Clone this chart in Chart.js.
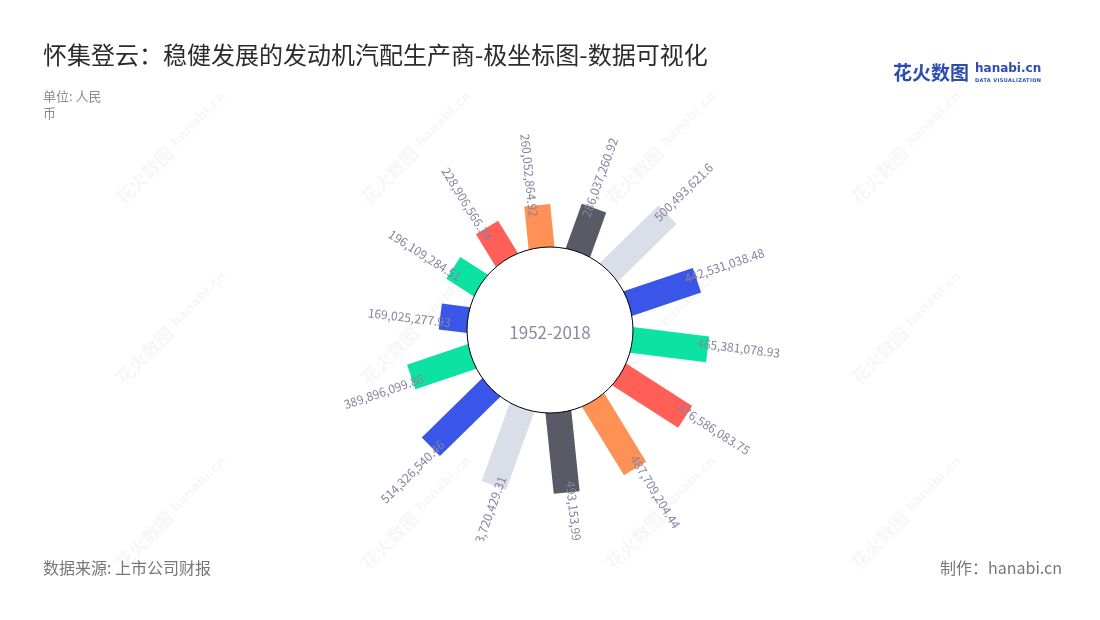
<!DOCTYPE html>
<html lang="zh">
<head>
<meta charset="utf-8">
<title>极坐标图</title>
<script src="https://cdn.jsdelivr.net/npm/chart.js@4/dist/chart.umd.min.js"></script>
<style>
    body { margin: 0; width: 1100px; height: 620px; background: #fff; position: relative; overflow: hidden;
           font-family: "Noto Sans CJK SC", "Noto Sans", sans-serif; }
    #chart { position: absolute; left: 0; top: 0; }
    .title { position: absolute; left: 43px; top: 39px; font-size: 24px; line-height: 30px; color: #2b2b2b; white-space: nowrap; }
    .unit { position: absolute; left: 43px; top: 87px; width: 70px; font-size: 13px; line-height: 17px; color: #8c8c8c; }
    .source { position: absolute; left: 43px; top: 556px; font-size: 16px; line-height: 22px; color: #777; }
    .credit { position: absolute; right: 38px; top: 556px; font-size: 16px; line-height: 22px; color: #777; }
    .logo-cn { position: absolute; left: 893px; top: 60px; font-size: 19px; line-height: 24px; font-weight: bold; color: #2d4bb3; }
    .logo-en { position: absolute; left: 975px; top: 61px; font-family: "DejaVu Sans", sans-serif; font-size: 12px; line-height: 15px; font-weight: bold; color: #2d4bb3; }
    .logo-sub { position: absolute; left: 975px; top: 77px; font-family: "DejaVu Sans", sans-serif; font-size: 5px; line-height: 6px; letter-spacing: 0.4px; font-weight: bold; color: #2d4bb3; }
</style>
</head>
<body>
<canvas id="chart" width="1100" height="620"></canvas>
<div class="title">怀集登云：稳健发展的发动机汽配生产商-极坐标图-数据可视化</div>
<div class="unit" id="unit"></div>
<div class="source">数据来源: 上市公司财报</div>
<div class="credit">制作：hanabi.cn</div>
<div class="logo-cn">花火数图</div>
<div class="logo-en">hanabi.cn</div>
<div class="logo-sub">DATA VISUALIZATION</div>
<script>
// Data (clockwise, first bar just above 9 o'clock)
const values = [169025277.93, 196109284.51, 228906566.34, 260052864.92, 286037260.92, 500493621.6, 442531038.48,
                465381078.93, 476586083.75, 487709204.44, 493153998.27, 503720429.31, 514326540.46, 389896099.86];
const barColors = ['#3A56E8', '#0CE3A2', '#FF5F56', '#FF9157', '#595A66', '#D9DEE9'];
const periodLabel = '1952-2018';
const unitLabel = '单位: 人民币';

document.getElementById('unit').textContent = unitLabel;

// Layout of the polar bars
const START_DEG = 277;      // angle of first bar, clockwise from north
const HOLE = 509e6;         // radial value where the hole ends
const EXTENT = 1104e6;      // half size of the square plot in radial units
const BAR_PX = 26;
const step = 360 / values.length;
const fmt = new Intl.NumberFormat('en-US', { maximumFractionDigits: 2 });

const datasets = values.map((v, i) => {
    const a = (START_DEG + i * step) * Math.PI / 180;
    const r0 = HOLE - 20e6;
    const r1 = HOLE + v;
    return {
        data: [
            { x: r0 * Math.sin(a), y: r0 * Math.cos(a) },
            { x: r1 * Math.sin(a), y: r1 * Math.cos(a) }
        ],
        showLine: true,
        borderColor: barColors[i % barColors.length],
        borderWidth: BAR_PX,
        borderCapStyle: 'butt',
        pointRadius: 0,
        pointHoverRadius: 0
    };
});

// Watermarks, hole, centre text and value labels
const polarDecor = {
    id: 'polarDecor',
    beforeDraw(chart) {
        const ctx = chart.ctx;
        ctx.save();
        ctx.fillStyle = 'rgba(0, 0, 0, 0.035)';
        ctx.textAlign = 'center';
        ctx.textBaseline = 'middle';
        [150, 330, 515].forEach(wy => {
            [170, 415, 660, 905].forEach(wx => {
                ctx.save();
                ctx.translate(wx, wy);
                ctx.rotate(-Math.PI / 4);
                ctx.font = 'bold 18px "Noto Sans CJK SC"';
                ctx.fillText('花火数图', -36, 0);
                ctx.font = 'bold 13px "DejaVu Sans"';
                ctx.fillText('hanabi.cn', 42, -1);
                ctx.restore();
            });
        });
        ctx.restore();
    },
    afterDatasetsDraw(chart) {
        const { ctx, scales: { x, y } } = chart;
        const cx = x.getPixelForValue(0);
        const cy = y.getPixelForValue(0);
        const holePx = x.getPixelForValue(HOLE) - cx;

        ctx.save();
        ctx.beginPath();
        ctx.arc(cx, cy, holePx, 0, Math.PI * 2);
        ctx.fillStyle = '#fff';
        ctx.fill();
        ctx.lineWidth = 1;
        ctx.strokeStyle = '#000';
        ctx.stroke();

        ctx.fillStyle = '#8b8ba6';
        ctx.font = '17px "Noto Sans CJK SC"';
        ctx.textAlign = 'center';
        ctx.textBaseline = 'middle';
        ctx.fillText(periodLabel, cx, cy + 3);

        ctx.beginPath();
        ctx.rect(0, 0, chart.width, 541);
        ctx.clip();
        ctx.fillStyle = '#84849e';
        ctx.font = '12px "Noto Sans CJK SC"';
        values.forEach((v, i) => {
            const deg = (START_DEG + i * step) % 360;
            const a = deg * Math.PI / 180;
            const tip = chart.getDatasetMeta(i).data[1];
            const ox = Math.sin(a), oy = -Math.cos(a);
            const tx = Math.cos(a), ty = Math.sin(a);
            const right = deg < 180;
            ctx.save();
            ctx.translate(tip.x - 11 * ox - 5 * tx, tip.y - 11 * oy - 5 * ty);
            ctx.rotate(right ? a - Math.PI / 2 : a + Math.PI / 2);
            ctx.textAlign = right ? 'left' : 'right';
            ctx.fillText(fmt.format(v), 0, 0);
            ctx.restore();
        });
        ctx.restore();
    }
};

new Chart(document.getElementById('chart'), {
    type: 'scatter',
    data: { datasets: datasets },
    options: {
        responsive: false,
        animation: false,
        layout: { padding: { left: 370, right: 370, top: 150, bottom: 110 } },
        scales: {
            x: { display: false, min: -EXTENT, max: EXTENT },
            y: { display: false, min: -EXTENT, max: EXTENT }
        },
        plugins: {
            legend: { display: false },
            tooltip: { enabled: false }
        }
    },
    plugins: [polarDecor]
});
</script>
</body>
</html>
